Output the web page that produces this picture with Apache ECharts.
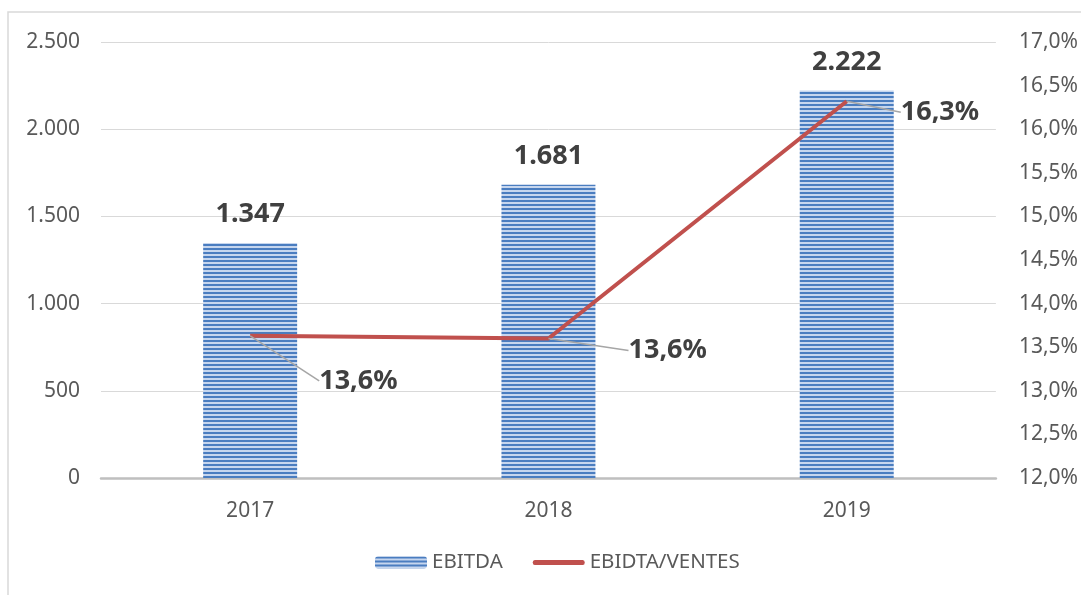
<!DOCTYPE html>
<html>
<head>
<meta charset="utf-8">
<script src="https://cdn.jsdelivr.net/npm/echarts@6/dist/echarts.min.js"></script>
<style>
  html, body { margin: 0; padding: 0; background: #fff; }
  #main { width: 1081px; height: 595px; }
</style>
</head>
<body>
<div id="main"></div>
<script>
  // données
  var years = ['2017', '2018', '2019']
  var ebitda = [1347, 1681, 2222]
  var ratio = [13.63, 13.60, 16.32]
  // décalage des étiquettes du ratio (dx, dy)
  var ratioLabelShift = [[64, 45], [75, 12], [49, 11]]

  var font = 'Noto Sans'

  // motif rayé des barres
  var stripe = document.createElement('canvas')
  stripe.width = 4
  stripe.height = 4
  var ctx = stripe.getContext('2d')
  ctx.fillStyle = '#4a7dc0'
  ctx.fillRect(0, 0, 4, 2)
  ctx.fillStyle = '#c6d6ee'
  ctx.fillRect(0, 2, 4, 2)

  function fmtThousand(v) {
    return String(v).replace(/\B(?=(\d{3})+(?!\d))/g, '.')
  }
  function fmtPct(v) {
    return v.toFixed(1).replace('.', ',') + '%'
  }

  var myChart = echarts.init(document.getElementById('main'))
  myChart.setOption({
    backgroundColor: '#fff',
    animation: false,
    textStyle: { fontFamily: font },
    graphic: [{
      type: 'rect',
      shape: { x: 8, y: 12, width: 1100, height: 600 },
      style: { fill: 'none', stroke: '#d9d9d9', lineWidth: 1.5 },
      silent: true
    }],
    grid: { left: 101, right: 84, top: 42, bottom: 117 },
    legend: {
      bottom: 17,
      left: 370,
      itemWidth: 52,
      itemHeight: 12,
      itemGap: 30,
      textStyle: { fontFamily: font, fontSize: 20.5, color: '#595959' },
      data: [
        { name: 'EBITDA' },
        {
          name: 'EBIDTA/VENTES',
          // trait épais, boîte 52x12
          icon: 'path://M0,0 M52,12 M2,3.5 L50,3.5 Q52,3.5 52,6 Q52,8.5 50,8.5 L2,8.5 Q0,8.5 0,6 Q0,3.5 2,3.5 Z'
        }
      ]
    },
    xAxis: [{
      type: 'category',
      data: years,
      axisTick: { show: false },
      axisLine: { lineStyle: { color: '#bfbfbf', width: 2.5 } },
      axisLabel: { fontSize: 21, color: '#595959', margin: 23 }
    }],
    yAxis: [{
      type: 'value',
      min: 0,
      max: 2500,
      interval: 500,
      axisLine: { show: false },
      axisTick: { show: false },
      splitLine: { lineStyle: { color: '#d9d9d9', width: 1 } },
      axisLabel: { fontSize: 21, color: '#595959', margin: 21, formatter: fmtThousand }
    }, {
      type: 'value',
      min: 12,
      max: 17,
      interval: 0.5,
      axisLine: { show: false },
      axisTick: { show: false },
      splitLine: { show: false },
      axisLabel: { fontSize: 21, color: '#595959', margin: 23, formatter: fmtPct }
    }],
    series: [{
      name: 'EBITDA',
      type: 'bar',
      data: ebitda,
      barWidth: '31.5%',
      itemStyle: {
        color: { image: stripe, repeat: 'repeat' }
      },
      label: {
        show: true,
        position: 'top',
        distance: 15,
        fontSize: 27,
        fontWeight: 'bold',
        color: '#404040',
        formatter: function (p) { return fmtThousand(p.value) }
      }
    }, {
      name: 'EBIDTA/VENTES',
      type: 'line',
      yAxisIndex: 1,
      data: ratio,
      symbol: 'circle',
      symbolSize: 0.1,
      showSymbol: true,
      lineStyle: { color: '#c0504d', width: 4 },
      itemStyle: { color: '#c0504d' },
      label: {
        show: true,
        position: 'right',
        distance: 5,
        fontSize: 27,
        fontWeight: 'bold',
        color: '#404040',
        formatter: function (p) { return fmtPct(p.value) }
      },
      labelLine: {
        show: true,
        lineStyle: { color: '#a6a6a6', width: 1.5 }
      },
      labelLayout: function (params) {
        var s = ratioLabelShift[params.dataIndex]
        return { dx: s[0], dy: s[1] }
      },
      z: 3
    }]
  })
</script>
</body>
</html>
